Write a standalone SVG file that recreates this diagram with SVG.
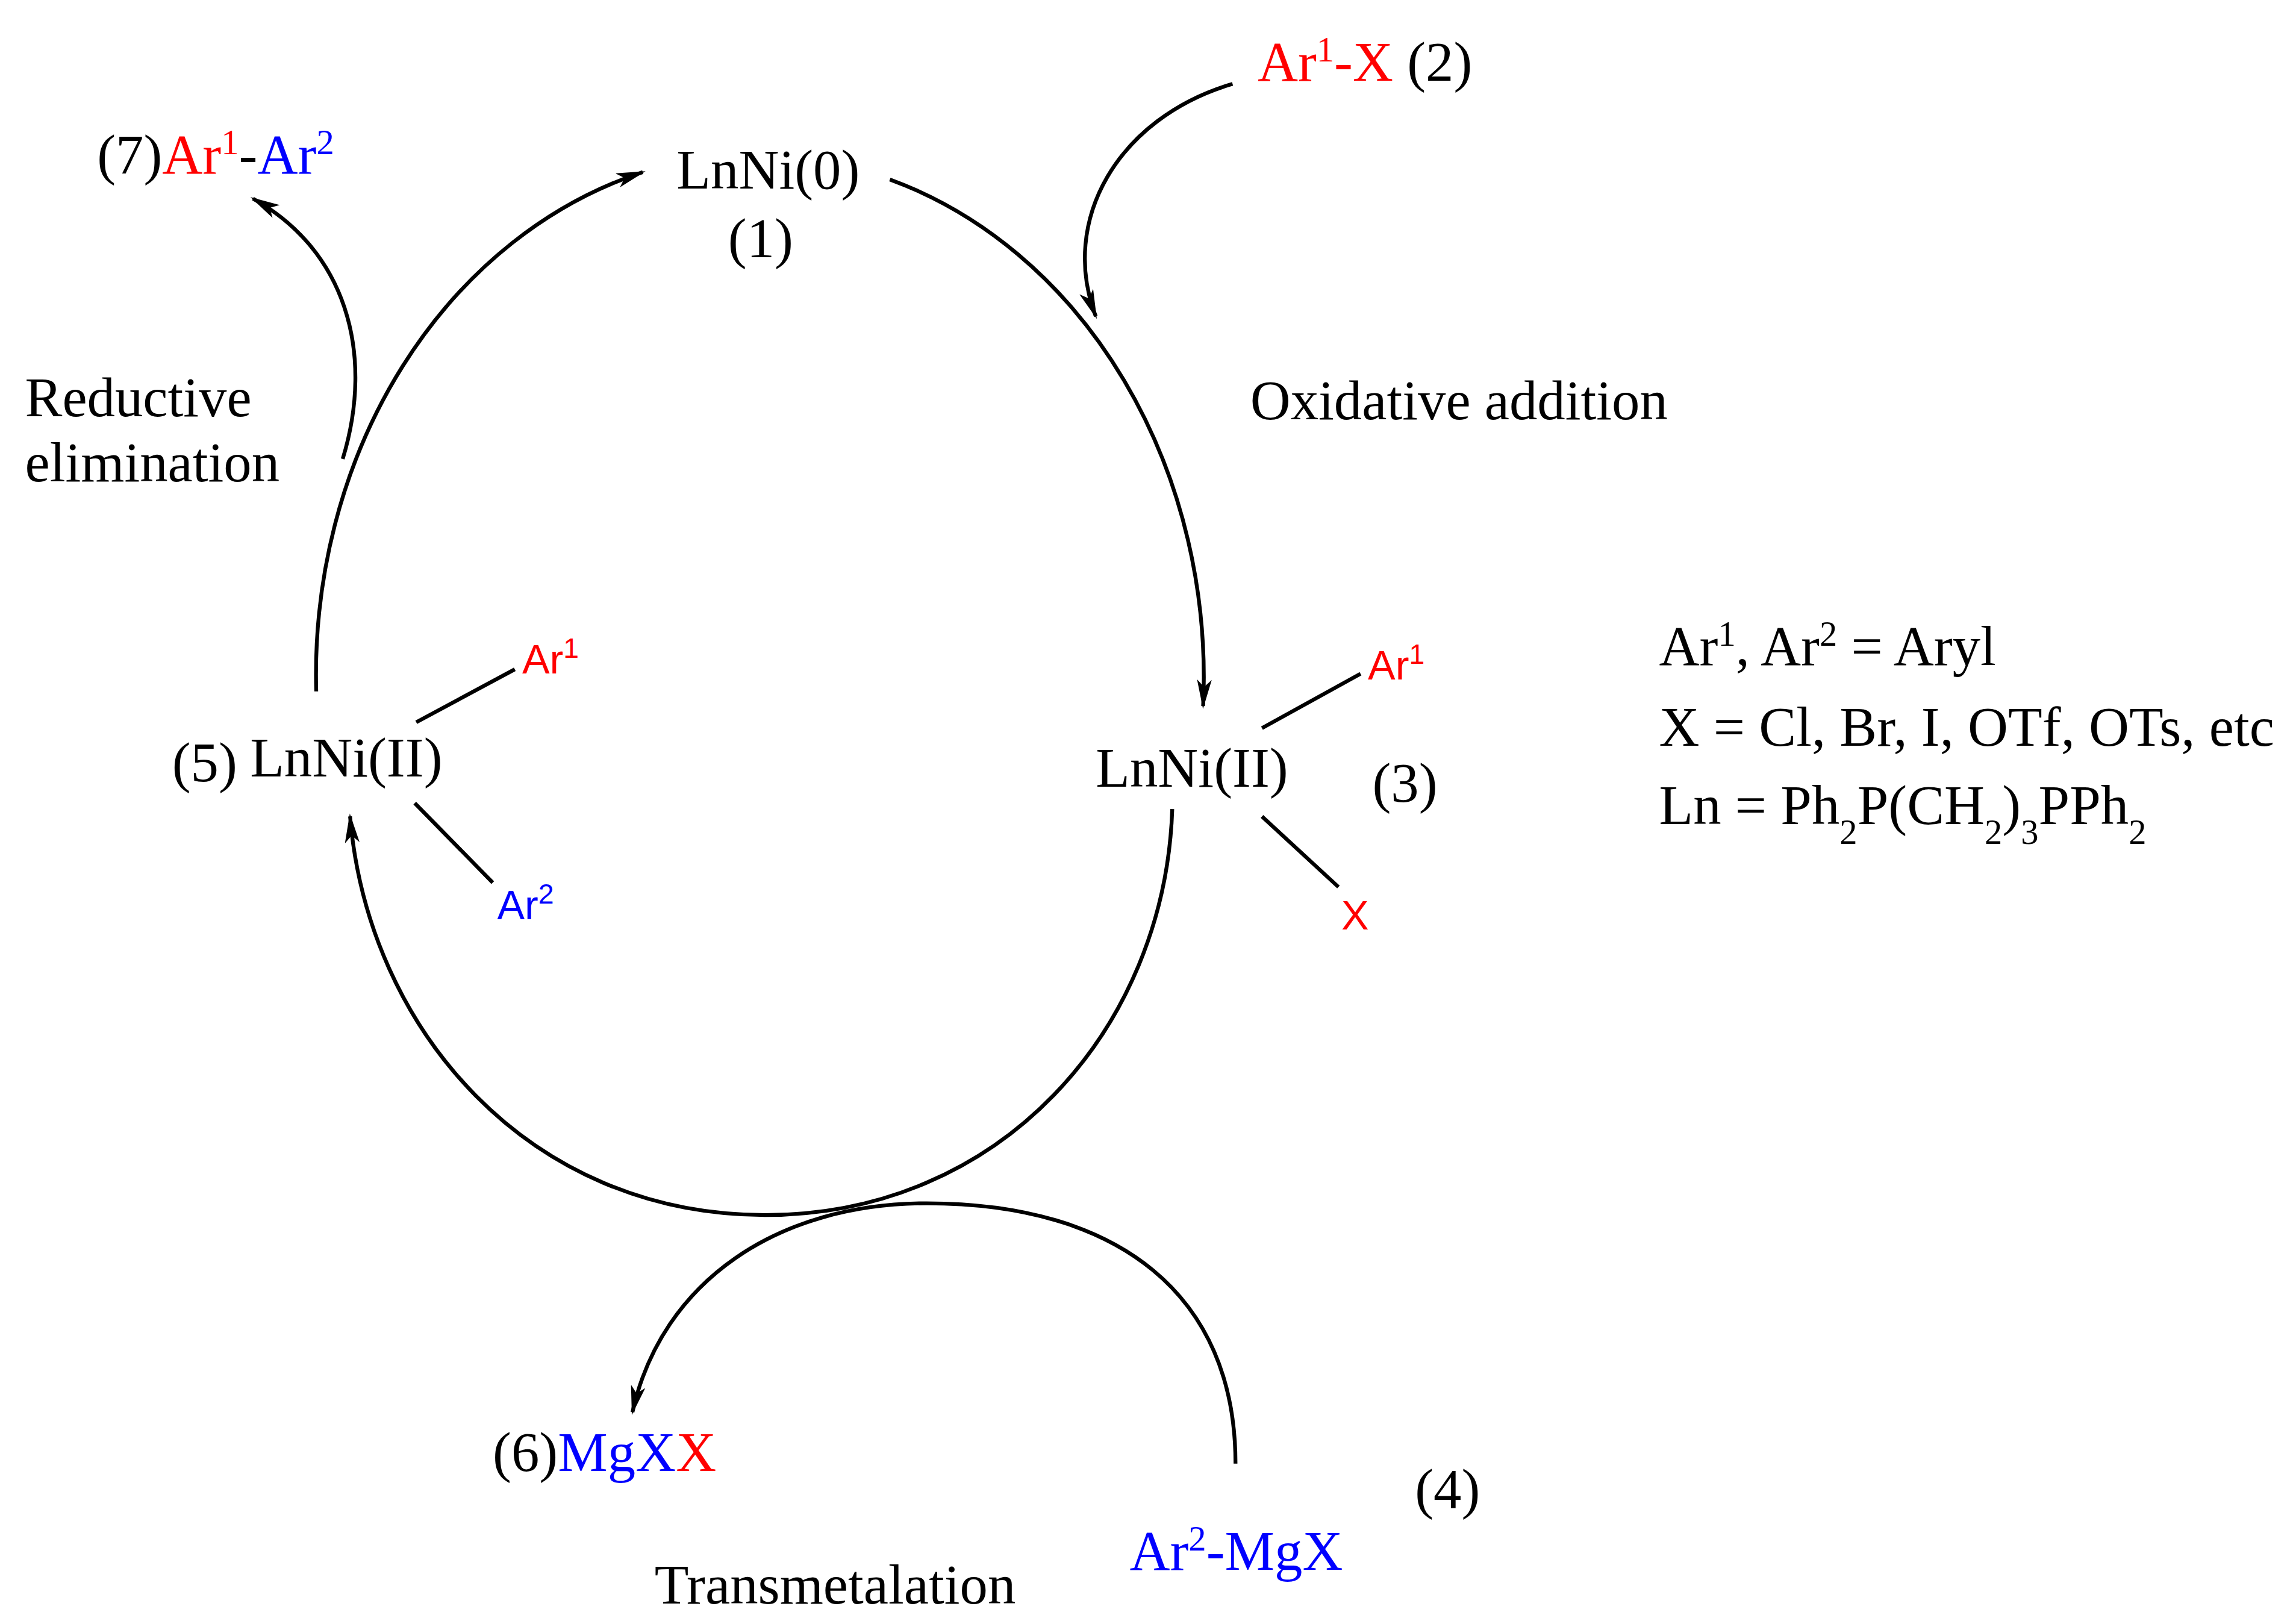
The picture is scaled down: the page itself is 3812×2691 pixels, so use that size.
<svg xmlns="http://www.w3.org/2000/svg" width="3812" height="2691" viewBox="0 0 3812 2691">
<defs>
<style>
.s{font-family:"Liberation Serif",serif;font-size:38px;fill:#000}
.a{font-family:"Liberation Sans",sans-serif;font-size:28px}
.r{fill:#ff0000}.b{fill:#0000ff}
.c{fill:none;stroke:#000;stroke-width:2.6}
</style>
<marker id="ah" viewBox="0 0 20 10" refX="18" refY="5" markerWidth="20" markerHeight="10" markerUnits="userSpaceOnUse" orient="auto">
<path d="M0,0 L20,5 L0,10 L5,5 Z" fill="#000"/>
</marker>
</defs>
<rect width="3812" height="2691" fill="#fff"/>
<g transform="scale(2.442)">
<g id="connectors">
<path class="c" d="M605,122 A305,355 0 0 1 818,480" marker-end="url(#ah)"/>
<path class="c" d="M797,550 C792,700 680,826 520,826 C360,826 250,700 238,555" marker-end="url(#ah)"/>
<path class="c" d="M215,470 A305,355 0 0 1 437,117" marker-end="url(#ah)"/>
<path class="c" d="M838,57 C760,80 720,150 745,215" marker-end="url(#ah)"/>
<path class="c" d="M233,312 C255,240 235,170 172,135" marker-end="url(#ah)"/>
<path class="c" d="M840,995 C840,880 760,818 630,818 C530,818 450,870 430,960" marker-end="url(#ah)"/>
<path class="c" d="M283,491 L350,455 M282,546 L335,600 M858,495 L925,458 M858,555 L910,603"/>
</g>
<g id="n1"><text class="s" x="460" y="128">LnNi(0)</text><text class="s" x="495" y="175">(1)</text></g>
<g id="n2"><text class="s" x="855" y="55"><tspan class="r">Ar<tspan baseline-shift="super" font-size="24">1</tspan>-X</tspan> (2)</text></g>
<g id="n7"><text class="s" x="66" y="118">(7)<tspan class="r">Ar<tspan baseline-shift="super" font-size="24">1</tspan></tspan>-<tspan class="b">Ar<tspan baseline-shift="super" font-size="24">2</tspan></tspan></text></g>
<g id="lbl"><text class="s" x="17" y="283">Reductive</text><text class="s" x="17" y="327">elimination</text>
<text class="s" x="850" y="285">Oxidative addition</text>
<text class="s" x="445" y="1090">Transmetalation</text></g>
<g id="legend">
<text class="s" x="1128" y="452">Ar<tspan baseline-shift="super" font-size="24">1</tspan>, Ar<tspan baseline-shift="super" font-size="24">2</tspan> = Aryl</text>
<text class="s" x="1128" y="507">X = Cl, Br, I, OTf, OTs, etc</text>
<text class="s" x="1128" y="560">Ln = Ph<tspan baseline-shift="sub" font-size="24">2</tspan>P(CH<tspan baseline-shift="sub" font-size="24">2</tspan>)<tspan baseline-shift="sub" font-size="24">3</tspan>PPh<tspan baseline-shift="sub" font-size="24">2</tspan></text>
</g>
<g id="n5"><text class="s" x="117" y="531">(5)</text><text class="s" x="170" y="528">LnNi(II)</text>
<text class="a r" x="355" y="458">Ar<tspan baseline-shift="super" font-size="19">1</tspan></text>
<text class="a b" x="338" y="625">Ar<tspan baseline-shift="super" font-size="19">2</tspan></text></g>
<g id="n3"><text class="s" x="745" y="535">LnNi(II)</text><text class="s" x="933" y="545">(3)</text>
<text class="a r" x="930" y="462">Ar<tspan baseline-shift="super" font-size="19">1</tspan></text>
<text class="a r" x="912" y="632">X</text></g>
<g id="n6"><text class="s" x="335" y="1000">(6)<tspan class="b">MgX</tspan><tspan class="r">X</tspan></text></g>
<g id="n4"><text class="s" x="962" y="1025">(4)</text>
<text class="s b" x="768" y="1067">Ar<tspan baseline-shift="super" font-size="24">2</tspan>-MgX</text></g>
</g>
</svg>
